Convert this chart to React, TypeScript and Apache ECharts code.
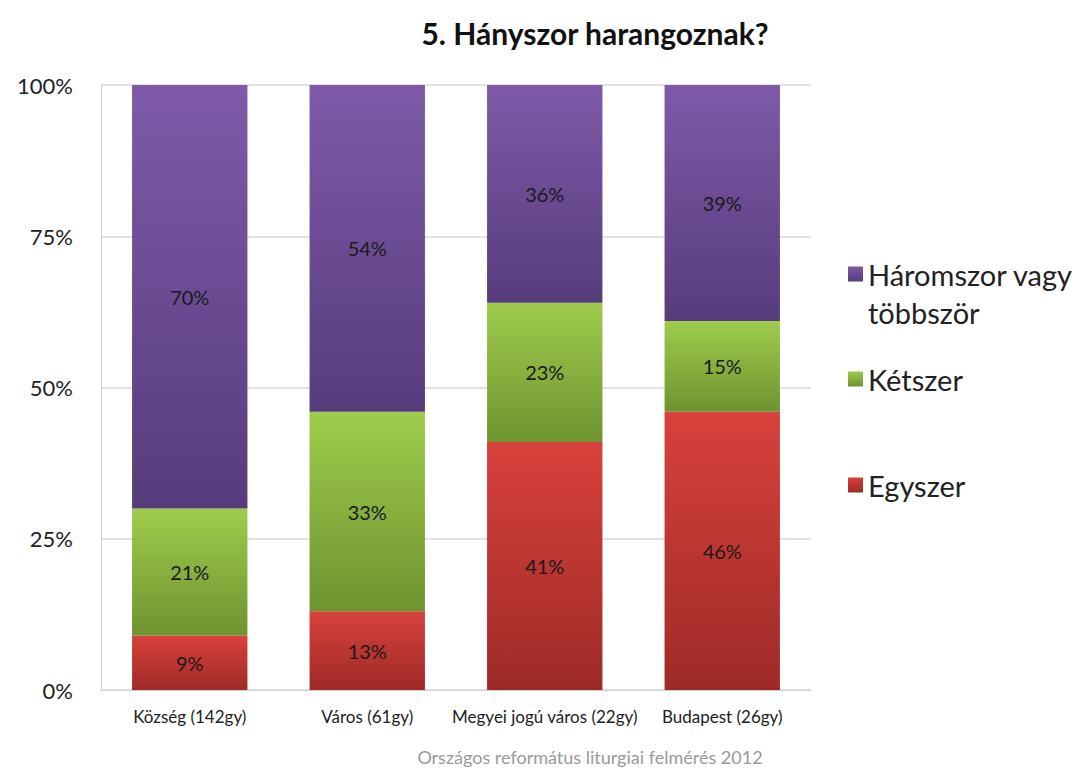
import React, { useEffect, useRef } from "react";
import * as echarts from "echarts";

const categories = ["Község (142gy)", "Város (61gy)", "Megyei jogú város (22gy)", "Budapest (26gy)"];
const egyszer = [9, 13, 41, 46];
const ketszer = [21, 33, 23, 15];
const haromszor = [70, 54, 36, 39];
const yTicks = [0, 25, 50, 75, 100];

const FONT = "Lato, 'Open Sans', sans-serif";

function grad(top: string, bottom: string) {
  return new echarts.graphic.LinearGradient(0, 0, 0, 1, [
    { offset: 0, color: top },
    { offset: 1, color: bottom },
  ]);
}

export default function App() {
  const ref = useRef<HTMLDivElement>(null);
  useEffect(() => {
    if (!ref.current) return;
    const chart = echarts.init(ref.current, undefined, { renderer: "svg" });
    const label = {
      show: true,
      position: "inside" as const,
      formatter: "{c}%",
      color: "#1a1a1a",
      fontSize: 20,
      fontFamily: FONT,
    };
    const LH = 38;
    const legendBase = {
      orient: "vertical" as const,
      left: 843,
      itemWidth: 15,
      itemHeight: 15,
      itemGap: 10,
      icon: "rect",
      textStyle: { fontSize: 29, color: "#222", fontFamily: FONT, lineHeight: LH },
    };
    chart.setOption({
      animation: false,
      title: {
        text: "5. Hányszor harangoznak?",
        left: 590,
        textAlign: "center",
        top: 13,
        textStyle: { fontSize: 30, fontWeight: "bold", color: "#111", fontFamily: FONT },
      },
      graphic: [
        {
          type: "text",
          style: {
            text: "Országos református liturgiai felmérés 2012",
            x: 590,
            y: 757,
            align: "center",
            verticalAlign: "middle",
            fill: "#9a9a9a",
            fontSize: 18,
            fontFamily: FONT,
          },
        },
      ],
      legend: [
        {
          ...legendBase,
          top: 276 - LH * 1.5 - 7,
          data: ["Háromszor vagy többször"],
          formatter: () => "\nHáromszor vagy\ntöbbször",
        },
        { ...legendBase, top: 381 - LH / 2 - 7, data: ["Kétszer"] },
        { ...legendBase, top: 487 - LH / 2 - 7, data: ["Egyszer"] },
      ],
      grid: { left: 101, right: 275, top: 85, bottom: 80, containLabel: false },
      xAxis: {
        type: "category",
        data: categories,
        axisLine: { lineStyle: { color: "#d0d0d0" } },
        axisTick: { show: false },
        axisLabel: { color: "#222", fontSize: 17, fontFamily: FONT, margin: 18, interval: 0 },
      },
      yAxis: {
        type: "value",
        min: yTicks[0],
        max: yTicks[yTicks.length - 1],
        interval: 25,
        axisLine: { show: true, lineStyle: { color: "#d0d0d0" } },
        axisTick: { show: false },
        splitLine: { lineStyle: { color: "#d9d9d9", width: 1.5 } },
        axisLabel: { formatter: "{value}%", color: "#222", fontSize: 22, fontFamily: FONT, margin: 28 },
      },
      series: [
        {
          name: "Egyszer",
          type: "bar",
          stack: "t",
          barWidth: "65%",
          data: egyszer,
          label,
          itemStyle: { color: grad("#d8413c", "#9e2a27") },
        },
        {
          name: "Kétszer",
          type: "bar",
          stack: "t",
          data: ketszer,
          label,
          itemStyle: { color: grad("#9fcc4c", "#6e9330") },
        },
        {
          name: "Háromszor vagy többször",
          type: "bar",
          stack: "t",
          data: haromszor,
          label,
          itemStyle: { color: grad("#7e5aa8", "#573c7c") },
        },
      ],
    });
    return () => chart.dispose();
  }, []);
  return <div ref={ref} style={{ width: 1086, height: 770, position: "absolute", left: 0, top: 0 }} />;
}
